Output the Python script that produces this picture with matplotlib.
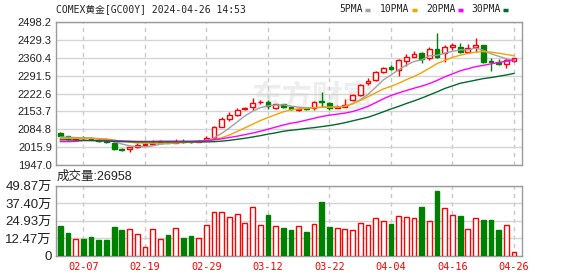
import matplotlib
matplotlib.use('Agg')
import matplotlib.pyplot as plt
import numpy as np
from matplotlib.lines import Line2D

plt.rcParams['font.family'] = ['Liberation Sans', 'Noto Sans CJK SC']

title = 'COMEX黄金[GC00Y] 2024-04-26 14:53'

# daily candles, 60 sessions 02-02 .. 04-26
opens = [2071, 2058, 2047, 2052, 2051, 2044, 2040, 2033, 2007, 2008,
         2018, 2026, 2028, 2031, 2036, 2033, 2037, 2037, 2037, 2042,
         2050, 2095, 2125, 2138, 2163, 2169, 2189, 2191, 2167, 2182,
         2172, 2159, 2166, 2165, 2194, 2185, 2168, 2172, 2197, 2217,
         2264, 2275, 2307, 2326, 2313, 2349, 2365, 2377, 2358, 2393,
         2377, 2403, 2400, 2384, 2400, 2410, 2349, 2344, 2336, 2348]
highs = [2073, 2060, 2054, 2058, 2054, 2046, 2043, 2036, 2011, 2017,
         2030, 2030, 2043, 2043, 2040, 2046, 2046, 2041, 2044, 2059,
         2097, 2133, 2150, 2165, 2170, 2204, 2198, 2197, 2184, 2184,
         2174, 2166, 2170, 2195, 2230, 2188, 2178, 2200, 2220, 2258,
         2281, 2310, 2325, 2331, 2354, 2375, 2388, 2384, 2403, 2457,
         2409, 2418, 2418, 2413, 2438, 2411, 2358, 2354, 2358, 2360]
lows = [2057, 2044, 2045, 2046, 2046, 2037, 2030, 2005, 2000, 1999,
        2014, 2023, 2026, 2030, 2031, 2030, 2032, 2033, 2035, 2040,
        2046, 2093, 2116, 2136, 2158, 2159, 2182, 2161, 2164, 2165,
        2160, 2157, 2160, 2159, 2172, 2160, 2165, 2169, 2194, 2214,
        2255, 2272, 2303, 2312, 2290, 2329, 2362, 2339, 2352, 2358,
        2345, 2390, 2377, 2381, 2384, 2341, 2311, 2331, 2322, 2345]
closes = [2059, 2046, 2052, 2050, 2049, 2040, 2037, 2008, 2005, 2015,
          2026, 2028, 2032, 2034, 2033, 2036, 2035, 2036, 2040, 2052,
          2095, 2123, 2138, 2159, 2165, 2187, 2191, 2173, 2181, 2169,
          2164, 2162, 2163, 2191, 2188, 2165, 2171, 2178, 2217, 2255,
          2272, 2307, 2322, 2316, 2352, 2365, 2375, 2354, 2393, 2365,
          2403, 2408, 2384, 2397, 2410, 2345, 2345, 2335, 2352, 2358]

# volume in 万
volumes = [20.9, 15.9, 12.1, 11.6, 13.1, 10.9, 10.9, 20.2, 18.0, 19.2,
           15.0, 6.4, 19.2, 11.4, 14.5, 19.9, 12.3, 13.8, 12.8, 21.4,
           31.3, 30.9, 27.1, 29.9, 23.5, 34.9, 21.4, 28.5, 20.7, 19.9,
           18.0, 20.7, 16.6, 22.1, 38.0, 20.2, 19.9, 19.2, 18.0, 23.5,
           21.4, 26.4, 24.5, 22.3, 27.8, 27.1, 26.4, 34.4, 24.5, 45.8,
           33.5, 28.5, 28.0, 19.2, 26.4, 25.2, 25.6, 18.0, 21.4, 2.7]

# moving averages
ma5 = [2055, 2054, 2053, 2052, 2051, 2047, 2046, 2037, 2028, 2021,
       2018, 2017, 2021, 2027, 2030, 2032, 2034, 2035, 2036, 2040,
       2052, 2069, 2090, 2113, 2136, 2154, 2168, 2175, 2178, 2179,
       2174, 2170, 2167, 2168, 2170, 2170, 2170, 2173, 2183, 2198,
       2219, 2246, 2275, 2294, 2314, 2332, 2346, 2352, 2368, 2370,
       2378, 2385, 2391, 2391, 2398, 2389, 2376, 2366, 2357, 2348]
ma10 = [2050, 2050, 2050, 2050, 2050, 2049, 2047, 2043, 2039, 2035,
        2032, 2031, 2031, 2031, 2032, 2033, 2034, 2035, 2037, 2040,
        2045, 2052, 2063, 2076, 2090, 2104, 2118, 2130, 2141, 2152,
        2160, 2163, 2166, 2168, 2169, 2170, 2171, 2173, 2183, 2196,
        2210, 2225, 2240, 2250, 2262, 2276, 2288, 2303, 2320, 2338,
        2350, 2362, 2370, 2377, 2382, 2384, 2382, 2378, 2373, 2368]
ma20 = [2037, 2037, 2038, 2041, 2042, 2042, 2042, 2041, 2040, 2039,
        2038, 2038, 2038, 2039, 2039, 2039, 2039, 2039, 2040, 2041,
        2044, 2048, 2053, 2058, 2064, 2070, 2077, 2085, 2093, 2101,
        2108, 2113, 2120, 2127, 2134, 2139, 2143, 2147, 2153, 2162,
        2173, 2187, 2202, 2215, 2225, 2234, 2243, 2251, 2261, 2273,
        2287, 2298, 2310, 2318, 2326, 2331, 2337, 2342, 2347, 2352]
ma30 = [2044, 2044, 2043, 2042, 2041, 2040, 2039, 2038, 2037, 2037,
        2036, 2036, 2036, 2036, 2036, 2036, 2036, 2036, 2036, 2036,
        2037, 2039, 2042, 2046, 2050, 2055, 2060, 2066, 2071, 2077,
        2081, 2084, 2088, 2091, 2095, 2099, 2104, 2110, 2117, 2124,
        2131, 2141, 2152, 2163, 2173, 2184, 2194, 2205, 2217, 2229,
        2242, 2252, 2262, 2268, 2274, 2280, 2284, 2289, 2294, 2300]

price_ticks = [1947.0, 2015.9, 2084.8, 2153.7, 2222.6, 2291.5, 2360.4, 2429.3, 2498.2]
vol_ticks = [0, 12.47, 24.93, 37.40, 49.87]
vol_tick_labels = ['0', '12.47万', '24.93万', '37.40万', '49.87万']
date_labels = ['02-07', '02-19', '02-29', '03-12', '03-22', '04-04', '04-16', '04-26']
last_volume = 26958

RED = '#ff0000'
GREEN = '#008000'
ma_colors = ['#a0a0a0', '#f5a200', '#ff00ff', '#006a2e']
ma_names = ['5PMA', '10PMA', '20PMA', '30PMA']

n = len(closes)
x = np.arange(n)
o, h, l, c = map(np.array, (opens, highs, lows, closes))
up = c >= o
edge = [RED if u else GREEN for u in up]
face = ['white' if u else GREEN for u in up]
date_pos = np.arange(3, n, 8)

W, H = 578, 276
fig = plt.figure(figsize=(W / 100, H / 100), dpi=100)
ax = fig.add_axes([56 / W, 1 - 165 / H, 466 / W, 143 / H])
axv = fig.add_axes([56 / W, 1 - 255.5 / H, 466 / W, 70 / H])

# faint watermark
ax.text(0.55, 0.47, '东方财富', transform=ax.transAxes, ha='center', va='center',
        fontsize=22, fontweight='bold', color='#ededed', zorder=0,
        family=['Noto Sans CJK SC'])

# candles
ax.vlines(x, l, h, colors=edge, linewidth=1, zorder=3)
ax.bar(x, np.abs(c - o), bottom=np.minimum(o, c), width=0.62,
       facecolor=face, edgecolor=edge, linewidth=1, zorder=4)

for ma, col in zip([ma5, ma10, ma20, ma30], ma_colors):
    ax.plot(x, ma, color=col, linewidth=1, zorder=5)

# volume bars
axv.bar(x, volumes, width=0.62, facecolor=face, edgecolor=edge, linewidth=1, zorder=3)

for a in (ax, axv):
    a.set_xlim(-0.56, n + 0.04)
    a.set_xticks(date_pos)
    a.grid(axis='x', color='#c8c8c8', linewidth=1, linestyle=(0, (3, 3)), zorder=1)
    a.grid(axis='y', color='#d4d4d4', linewidth=1, linestyle='-', zorder=1)
    a.set_axisbelow(True)
    a.tick_params(length=0, pad=3)
    for s in a.spines.values():
        s.set_color('#9a9a9a')
        s.set_linewidth(1)

ax.set_ylim(price_ticks[0], price_ticks[-1])
ax.set_yticks(price_ticks)
ax.set_yticklabels(['%.1f' % t for t in price_ticks], fontsize=8, color='#222222')
ax.set_xticklabels([])

axv.set_ylim(vol_ticks[0], vol_ticks[-1])
axv.set_yticks(vol_ticks)
axv.set_yticklabels(vol_tick_labels, fontsize=9.5, color='#222222')
axv.set_xticklabels(date_labels, color=RED, fontsize=7.4,
                    family=['DejaVu Sans Mono', 'Noto Sans CJK SC'])
axv.tick_params(axis='x', pad=5)

# header and legend
fig.text(56 / W, 1 - 9 / H, title, ha='left', va='center', fontsize=7,
         color='#222222', family=['DejaVu Sans Mono', 'Noto Sans CJK SC'])
leg_x = [339, 380, 426, 471]
for name, col, lx in zip(ma_names, ma_colors, leg_x):
    t = fig.text(lx / W, 1 - 9 / H, name, ha='left', va='center', fontsize=7,
                 color='#222222', family=['DejaVu Sans Mono'])
    dx = lx + 6 * len(name) + 2
    fig.add_artist(Line2D([dx / W, (dx + 5) / W], [1 - 10 / H, 1 - 10 / H],
                          color=col, linewidth=2.5, solid_capstyle='butt'))

fig.text(57 / W, 1 - 177 / H, '成交量:%d' % last_volume, ha='left', va='center',
         fontsize=9, color='#222222')

fig.savefig('out.png', dpi=100)
